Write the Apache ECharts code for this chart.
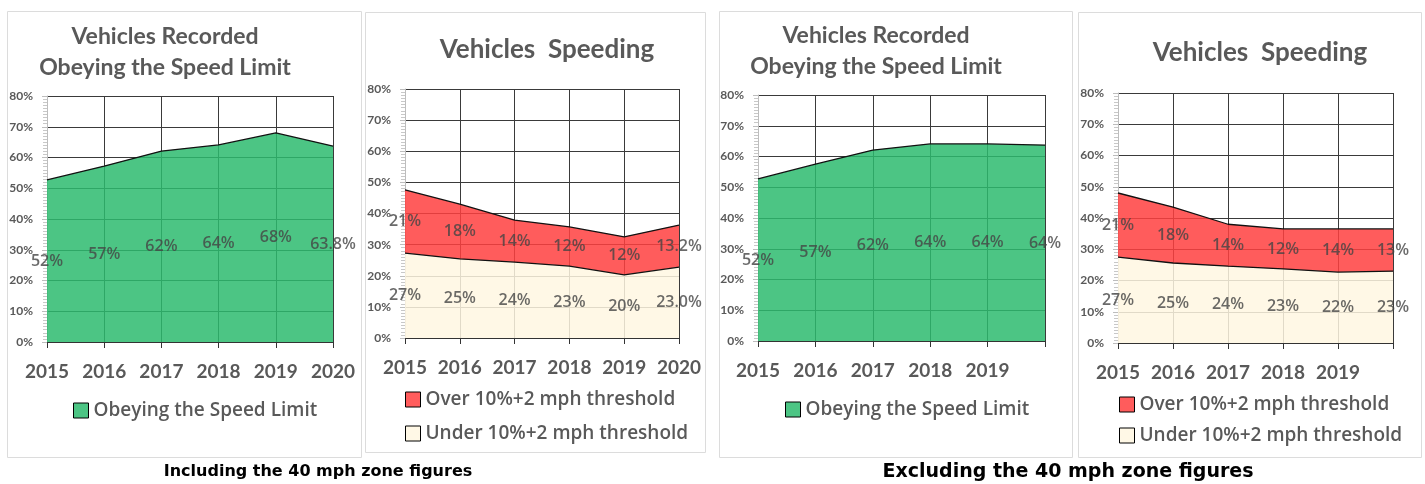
<!DOCTYPE html>
<html>
<head>
<meta charset="utf-8">
<script src="https://cdn.jsdelivr.net/npm/echarts@6/dist/echarts.min.js"></script>
<style>
html,body{margin:0;padding:0;background:#fff;}
#c{width:1425px;height:484px;}
</style>
</head>
<body>
<div id="c"></div>
<script>
// ---- data ----
const yearsIncl = ['2015','2016','2017','2018','2019','2020'];
const yearsExcl = ['2015','2016','2017','2018','2019',''];
const yTicks = [0,10,20,30,40,50,60,70,80];

const obeyIncl = [52.7, 57.2, 62.1, 64.1, 68, 63.7];
const obeyInclLabels = ['52%','57%','62%','64%','68%','63.8%'];

const underIncl = [27.3, 25.4, 24.4, 23.1, 20.3, 22.8];
const overIncl = [20.3, 17.6, 13.5, 12.6, 12.2, 13.5];
const underInclLabels = ['27%','25%','24%','23%','20%','23.0%'];
const overInclLabels = ['21%','18%','14%','12%','12%','13.2%'];

const obeyExcl = [52.7, 57.5, 62.1, 64.1, 64.1, 63.7];
const obeyExclLabels = ['52%','57%','62%','64%','64%','64%'];

const underExcl = [27.5, 25.6, 24.6, 23.7, 22.7, 23];
const overExcl = [20.5, 17.9, 13.4, 12.8, 13.8, 13.5];
const underExclLabels = ['27%','25%','24%','23%','22%','23%'];
const overExclLabels = ['21%','18%','14%','12%','14%','13%'];

const OBEY = 'Obeying the Speed Limit';
const OVER = 'Over 10%+2 mph threshold';
const UNDER = 'Under 10%+2 mph threshold';

// ---- styles ----
const GREEN = 'rgb(45,187,110)', GREEN_SOLID = '#4cc584';
const RED = 'rgb(255,64,64)', RED_SOLID = '#ff5c5c';
const BEIGE = 'rgb(255,247,226)', BEIGE_SOLID = '#fff8e6';
const TXT = '#595959';
const FONT = 'Lato, "Open Sans", sans-serif';
const FONT2 = '"Open Sans", Lato, sans-serif';

const grids = [
  {left: 47, top: 96, width: 286, height: 246},
  {left: 405, top: 89, width: 274, height: 249},
  {left: 758, top: 95, width: 287, height: 246},
  {left: 1118, top: 93, width: 275, height: 250}
];

function xAx(i, cats) {
  return {
    type: 'category', gridIndex: i, data: cats, boundaryGap: false,
    axisLine: {lineStyle: {color: '#333', width: 1}},
    axisTick: {show: true, length: 6, lineStyle: {color: '#333'}},
    axisLabel: {color: TXT, fontFamily: FONT, fontWeight: 'bold', fontSize: 19, margin: 20, interval: 0},
    splitLine: {show: true, lineStyle: {color: '#3a3a3a', width: 1}}
  };
}
function yAx(i) {
  return {
    type: 'value', gridIndex: i, min: yTicks[0], max: yTicks[yTicks.length-1], interval: 10,
    axisLine: {show: true, lineStyle: {color: '#bdbdbd'}},
    axisTick: {show: true, length: 5, lineStyle: {color: '#bdbdbd'}},
    minorTick: {show: true, splitNumber: 10, length: 4, lineStyle: {color: '#c8c8c8'}},
    axisLabel: {color: TXT, fontFamily: FONT, fontWeight: 'bold', fontSize: 12, margin: 14, formatter: '{value}%'},
    splitLine: {show: true, lineStyle: {color: '#3a3a3a', width: 1}}
  };
}
function areaSeries(i, name, data, fill, stack) {
  const s = {
    type: 'line', name: name, xAxisIndex: i, yAxisIndex: i, data: data,
    symbol: 'none', smooth: false,
    itemStyle: {color: fill},
    lineStyle: {color: '#111', width: 1.3},
    areaStyle: {color: fill, opacity: 0.85},
    z: 2
  };
  if (stack) s.stack = stack;
  return s;
}
function labelSeries(i, mids, texts) {
  return {
    type: 'scatter', name: 'lbl' + i + texts[0], xAxisIndex: i, yAxisIndex: i,
    data: mids.map((v, k) => [k, v]), symbolSize: 0, silent: true, z: 10,
    label: {show: true, position: 'inside', color: '#454545', fontFamily: FONT2, fontSize: 16, fontWeight: 600,
      formatter: p => texts[p.dataIndex]}
  };
}
const half = arr => arr.map(v => v / 2);
const midTop = (base, top) => base.map((v, k) => v + top[k] / 2);

const legendText = {color: TXT, fontFamily: FONT2, fontSize: 19, fontWeight: 600};
function legItem(name, color) {
  return {name: name, itemStyle: {color: color, borderColor: '#000', borderWidth: 1}};
}

const option = {
  animation: false,
  backgroundColor: '#fff',
  grid: grids,
  xAxis: [xAx(0, yearsIncl), xAx(1, yearsIncl), xAx(2, yearsExcl), xAx(3, yearsExcl)],
  yAxis: [yAx(0), yAx(1), yAx(2), yAx(3)],
  legend: [
    {left: 68, top: 396, icon: 'rect', itemWidth: 15, itemHeight: 15, itemGap: 16, textStyle: legendText,
      data: [legItem(OBEY, GREEN_SOLID)], selectedMode: false},
    {left: 400, top: 385, orient: 'vertical', icon: 'rect', itemWidth: 15, itemHeight: 15, itemGap: 15, textStyle: legendText,
      data: [legItem(OVER, RED_SOLID), legItem(UNDER, BEIGE_SOLID)], selectedMode: false},
    {left: 780, top: 395, icon: 'rect', itemWidth: 15, itemHeight: 15, itemGap: 16, textStyle: legendText,
      data: [legItem(OBEY, GREEN_SOLID)], selectedMode: false},
    {left: 1114, top: 390, orient: 'vertical', icon: 'rect', itemWidth: 15, itemHeight: 15, itemGap: 12, textStyle: legendText,
      data: [legItem(OVER, RED_SOLID), legItem(UNDER, BEIGE_SOLID)], selectedMode: false}
  ],
  graphic: [
    {type: 'rect', shape: {x: 7.5, y: 11.5, width: 354, height: 446}, style: {fill: 'none', stroke: '#dcdcdc', lineWidth: 1}, z: -10},
    {type: 'rect', shape: {x: 365.5, y: 12.5, width: 340, height: 440}, style: {fill: 'none', stroke: '#dcdcdc', lineWidth: 1}, z: -10},
    {type: 'rect', shape: {x: 719.5, y: 11.5, width: 353, height: 446}, style: {fill: 'none', stroke: '#dcdcdc', lineWidth: 1}, z: -10},
    {type: 'rect', shape: {x: 1078.5, y: 12.5, width: 343, height: 445}, style: {fill: 'none', stroke: '#dcdcdc', lineWidth: 1}, z: -10},
    {type: 'text', x: 165, y: 52, style: {text: 'Vehicles Recorded\nObeying the Speed Limit', align: 'center', verticalAlign: 'middle',
      fill: TXT, font: 'bold 23px ' + FONT, lineHeight: 31}},
    {type: 'text', x: 547, y: 50, style: {text: 'Vehicles  Speeding', align: 'center', verticalAlign: 'middle',
      fill: TXT, font: 'bold 26px ' + FONT}},
    {type: 'text', x: 876, y: 51, style: {text: 'Vehicles Recorded\nObeying the Speed Limit', align: 'center', verticalAlign: 'middle',
      fill: TXT, font: 'bold 23px ' + FONT, lineHeight: 31}},
    {type: 'text', x: 1260, y: 53, style: {text: 'Vehicles  Speeding', align: 'center', verticalAlign: 'middle',
      fill: TXT, font: 'bold 26px ' + FONT}},
    {type: 'text', x: 318, y: 472, style: {text: 'Including the 40 mph zone figures', align: 'center', verticalAlign: 'middle',
      fill: '#000', font: 'bold 16px "DejaVu Sans", sans-serif'}},
    {type: 'text', x: 1068, y: 472, style: {text: 'Excluding the 40 mph zone figures', align: 'center', verticalAlign: 'middle',
      fill: '#000', font: 'bold 19px "DejaVu Sans", sans-serif'}}
  ],
  series: [
    areaSeries(0, OBEY, obeyIncl, GREEN),
    labelSeries(0, half(obeyIncl), obeyInclLabels),

    areaSeries(1, UNDER, underIncl, BEIGE, 's1'),
    areaSeries(1, OVER, overIncl, RED, 's1'),
    labelSeries(1, half(underIncl), underInclLabels),
    labelSeries(1, midTop(underIncl, overIncl), overInclLabels),

    areaSeries(2, OBEY, obeyExcl, GREEN),
    labelSeries(2, half(obeyExcl), obeyExclLabels),

    areaSeries(3, UNDER, underExcl, BEIGE, 's3'),
    areaSeries(3, OVER, overExcl, RED, 's3'),
    labelSeries(3, half(underExcl), underExclLabels),
    labelSeries(3, midTop(underExcl, overExcl), overExclLabels)
  ]
};

const chart = echarts.init(document.getElementById('c'), null, {renderer: 'canvas'});
chart.setOption(option);
</script>
</body>
</html>
